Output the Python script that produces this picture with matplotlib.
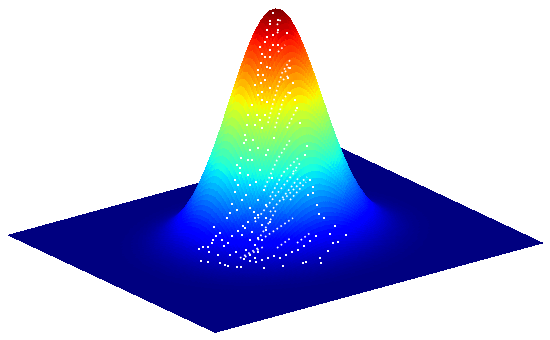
import numpy as np
import matplotlib
matplotlib.use("Agg")
import matplotlib.pyplot as plt

# Height profile: radius (fraction of plane side) -> height
radius = [0, .02, .04, .06, .08, .10, .12, .14, .16, .18, .20, .22, .24, .26, .28, .30, .32, .34, .36, .38, .40, .45, .50, .75]
height = [1, .986, .945, .881, .798, .703, .603, .50, .405, .318, .244, .181, .131, .092, .063, .042, .027, .017, .0105, .006, .0035, .0008, 0, 0]

# White specks seen on the surface (pixels)
speck_x = [201,208,220,225,228,237,241,264,283,303,306,321,320,328,333,338,346,335,330,324,319,317,313,313,308,310,307,305,
           214,220,203,199,213,208,218,209,227,230,232,237,235,238,235,240,237,241,246,250,248,
           242,245,250,252,255,258,246,250,255,258,262,266,270,262,255,248,243,238,232,228,224,222,216,212,
           230,236,244,250,256,262,268,274,280,286,292,298,304,310,316,
           273,270,278,270,267,287,278,273,267,265,260,273,278,262,270,265,270,261,258,267,270,258,263,265,261,255,270,262,258,
           252,262,267,248,257,260,265,247,255,262,293,290,288,295,290,297,300,
           245,253,258,266,274,240,248,256,264,272,242,250,258,266,244,252,260,268,246,254,262,250,258,266]
speck_y = [261,262,263,265,266,267,267,268,266,263,262,263,258,251,243,242,235,226,234,218,214,205,193,187,195,180,146,155,
           227,233,247,249,240,247,255,252,218,213,204,210,192,185,180,173,165,158,140,150,160,
           235,228,240,232,245,238,250,255,258,252,240,230,222,225,218,222,226,231,236,243,246,240,236,243,
           255,252,259,261,262,260,258,256,258,255,252,250,246,241,236,
           13,21,20,24,30,33,30,35,37,42,47,45,45,54,50,57,57,63,70,67,68,75,75,80,83,85,88,92,95,
           105,100,102,115,115,120,115,125,125,128,83,68,78,100,93,108,123,
           135,140,148,155,138,168,175,182,190,178,200,208,215,205,143,160,170,150,195,212,225,185,200,218]

# Dotted streaks seen on the surface (pixels)
streak_x = [[240,260],[245,263],[265,293],[277,292],[297,310],[270,283,298],[265,277,290],[283,298,307],[293,300],
            [268,273,282,290],[275,283,290],[287,297],[278,285],[285,289],[283,289],[277,281],[277,280],
            [255,268,280,296],[270,284,300],[290,306],[258,268,276]]
streak_y = [[258,247],[257,247],[237,218],[248,237],[243,233],[197,173,158],[187,160,140],[200,185,177],[172,163],
            [123,103,73,60],[128,100,90],[128,108],[52,45],[72,67],[80,75],[25,19],[33,30],
            [222,205,190,170],[212,196,176],[200,182],[240,224,210]]

grid_x = np.linspace(-.5, .5, 161)
X, Y = np.meshgrid(grid_x, grid_x)
Z = np.interp(np.hypot(X, Y), radius, height)

W, H = 550, 340
fig = plt.figure(figsize=(W/100, H/100), dpi=100, facecolor="white")
S = 700
cx, cy = 266, 340-133.5
ax = fig.add_axes([(cx-S/2)/W, (cy-S/2)/H, S/W, S/H], projection="3d")
ax.set_proj_type("ortho")
ax.view_init(elev=21, azim=-37.3)
ax.set_box_aspect((341.6, 412, 247), zoom=571/700)
ax.set_xlim(-.5, .5); ax.set_ylim(-.5, .5); ax.set_zlim(0, 1)
ax.plot_surface(X, Y, Z, rstride=1, cstride=1, cmap="jet", vmin=0, vmax=1,
                linewidth=0, antialiased=False, shade=False)
ax.set_axis_off()
ax.patch.set_alpha(0)

over = fig.add_axes([0, 0, 1, 1], facecolor="none")
over.set_xlim(0, W); over.set_ylim(H, 0); over.set_axis_off()
over.plot(speck_x, speck_y, ls="none", marker="s", ms=1.5, mew=0, color="white")
for sx, sy in zip(streak_x, streak_y):
    over.plot(sx, sy, ls=(0, (1, 1.8)), lw=1.2, color="white")
fig.savefig("out.png", dpi=100)
